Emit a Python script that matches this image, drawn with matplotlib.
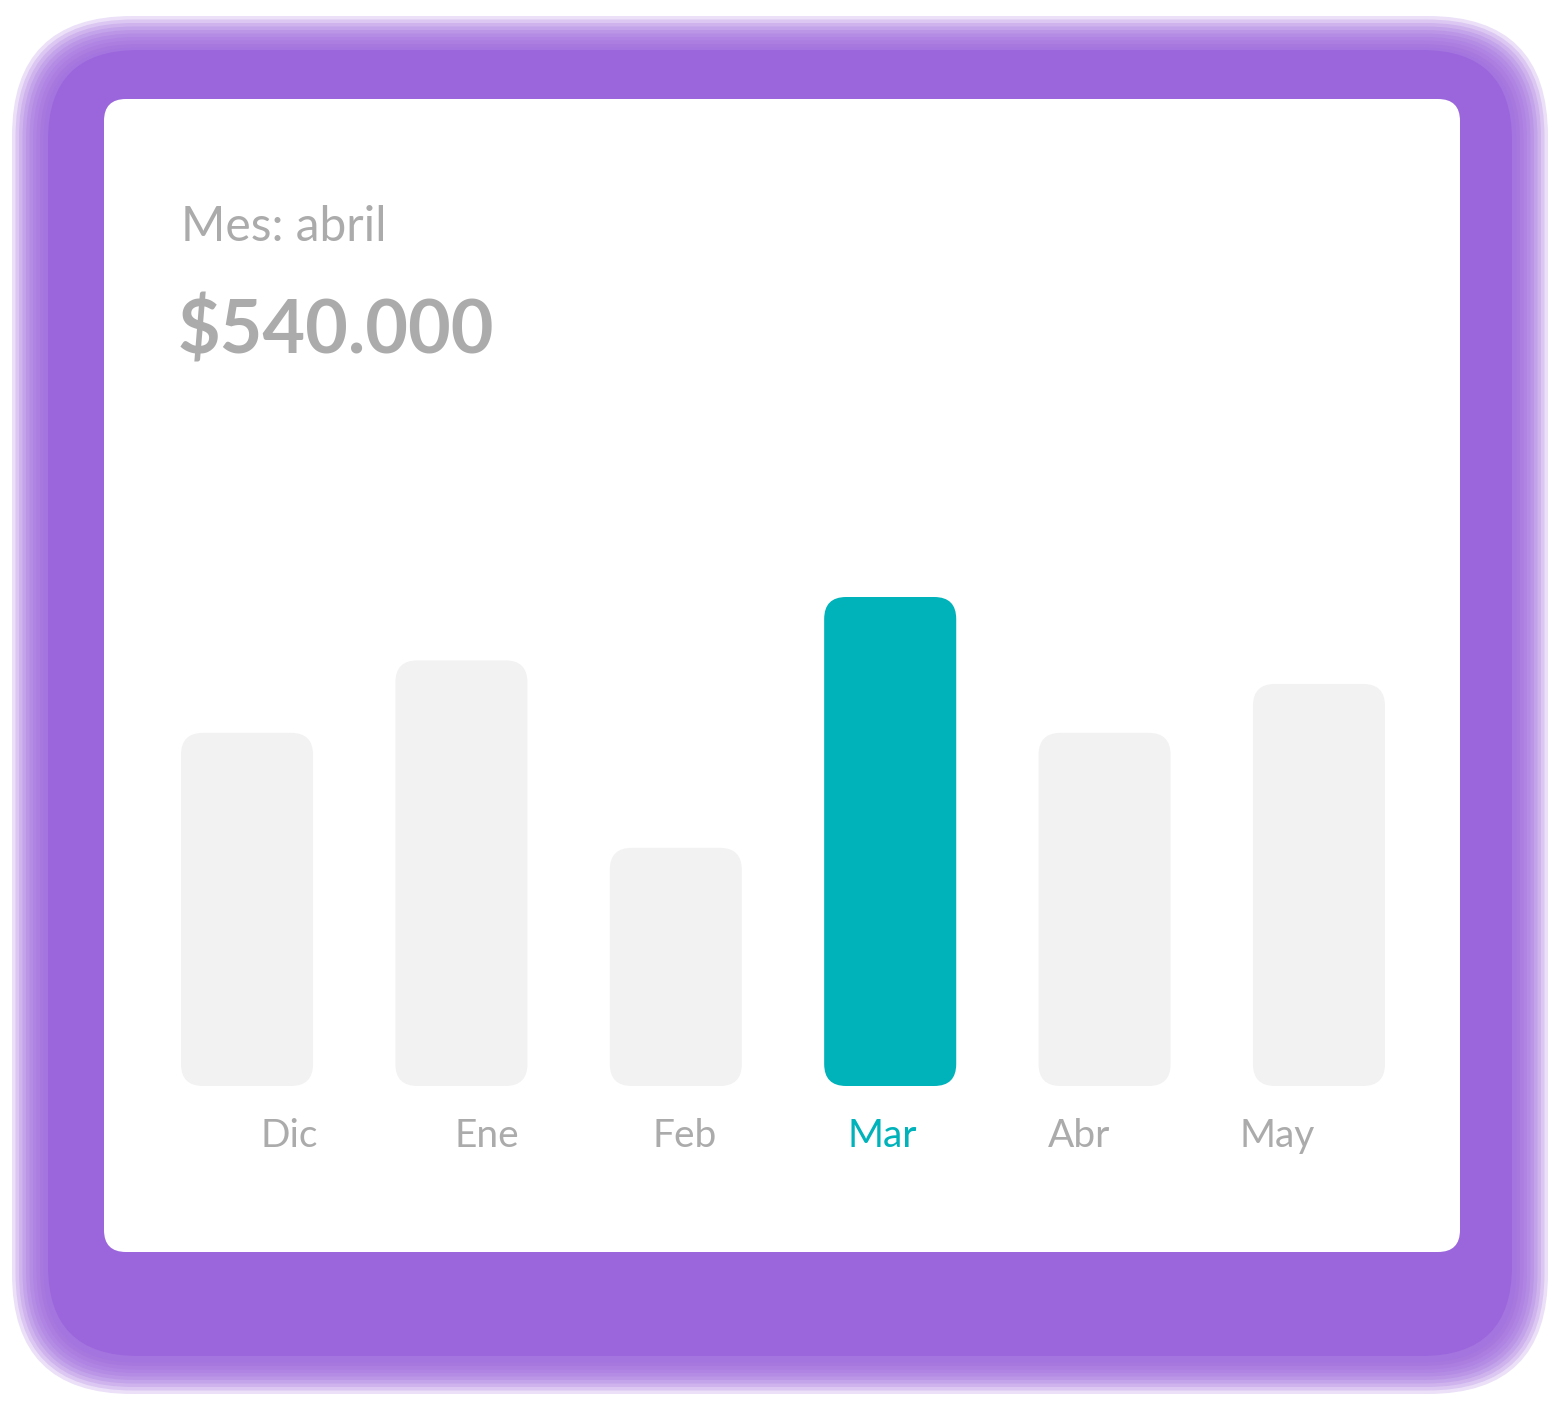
import matplotlib
matplotlib.use('Agg')
import matplotlib.pyplot as plt
from matplotlib.patches import FancyBboxPatch

# data
months = ['Dic', 'Ene', 'Feb', 'Mar', 'Abr', 'May']
values = [390, 470, 263, 540, 390, 444]
highlight = 'Mar'
title = 'Mes: abril'
amount = '$540.000'

W, H = 1560, 1406
GRAY_TXT = '#ABABAB'
BAR_GRAY = '#F2F2F2'
TEAL = '#00B2BA'
PURPLE = '#9B66DC'

plt.rcParams['font.family'] = ['Lato', 'DejaVu Sans']

fig = plt.figure(figsize=(W / 100, H / 100), dpi=100)
fig.patch.set_facecolor('white')

# background layer in pixel coords: glow + card
bg = fig.add_axes([0, 0, 1, 1])
bg.set_xlim(0, W)
bg.set_ylim(H, 0)
bg.axis('off')

for k in range(10):
    inset = 12 + k * 3.5
    bg.add_patch(FancyBboxPatch((inset, inset + 4), W - 2 * inset, H - 2 * inset - 4,
                                boxstyle='round,pad=0,rounding_size=%d' % (120 - k * 3),
                                fc=PURPLE, ec='none', alpha=0.2))
bg.add_patch(FancyBboxPatch((48, 50), W - 96, H - 100,
                            boxstyle='round,pad=0,rounding_size=90',
                            fc=PURPLE, ec='none'))
bg.add_patch(FancyBboxPatch((104, 99), 1356, 1153,
                            boxstyle='round,pad=0,rounding_size=22',
                            fc='white', ec='none'))

bg.text(181, 227, title, fontsize=34.5, fontweight='normal', color=GRAY_TXT,
        ha='left', va='center')
bg.text(178, 332, amount, fontsize=53, fontweight='bold', color=GRAY_TXT,
        ha='left', va='center')

# bar axes
left, right, bottom, top = 181, 1385, 1086, 597
ax = fig.add_axes([left / W, (H - bottom) / H, (right - left) / W, (bottom - top) / H])
ax.set_facecolor('none')
n = len(months)
bw = 0.616
ax.set_xlim(-bw / 2, n - 1 + bw / 2)
ax.set_ylim(0, max(values))
ax.axis('off')

px_per_x = (right - left) / (n - 1 + bw)
px_per_y = (bottom - top) / max(values)
aspect = px_per_x / px_per_y
radius = 22 / px_per_x

bars = ax.bar(range(n), values, width=bw, color='none')
for b, m in zip(bars, months):
    c = TEAL if m == highlight else BAR_GRAY
    ax.add_patch(FancyBboxPatch((b.get_x(), b.get_y()), b.get_width(), b.get_height(),
                                boxstyle='round,pad=0,rounding_size=%f' % radius,
                                mutation_aspect=aspect, fc=c, ec='none'))

# month labels (spaced independently of bars, as in the design)
for i, m in enumerate(months):
    xpx = 289 + i * 197.6
    bg.text(xpx, 1136, m, fontsize=28, fontweight='normal',
            color=TEAL if m == highlight else GRAY_TXT, ha='center', va='center')

fig.savefig('out.png', dpi=100)
